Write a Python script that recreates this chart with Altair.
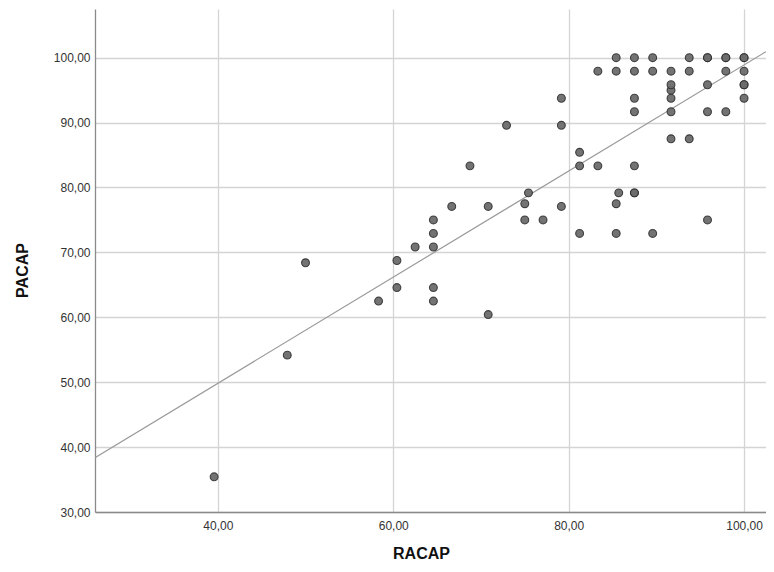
import altair as alt
import pandas as pd

racap = [39.58, 47.92, 50.00, 58.33, 60.42, 60.42, 62.50, 64.58, 64.58, 64.58,
         64.58, 64.58, 66.67, 68.75, 70.83, 70.83, 72.92, 75.00, 75.00, 75.42,
         77.08, 79.17, 79.17, 79.17, 81.25, 81.25, 81.25, 83.33, 83.33, 85.42,
         85.42, 85.71, 85.42, 85.42, 87.50, 87.50, 87.50, 87.50, 87.50, 87.50,
         87.50, 89.58, 89.58, 89.58, 91.67, 91.67, 91.67, 91.67, 91.67, 91.67,
         93.75, 93.75, 93.75, 95.83, 95.83, 95.83, 95.83, 95.83, 97.92, 97.92,
         97.92, 97.92, 100.0, 100.0, 100.0, 100.0, 100.0, 100.0]
pacap = [35.42, 54.17, 68.40, 62.50, 64.58, 68.75, 70.83, 62.50, 64.58, 70.83,
         72.92, 75.00, 77.08, 83.33, 60.42, 77.08, 89.58, 75.00, 77.50, 79.17,
         75.00, 77.08, 89.58, 93.75, 72.92, 83.33, 85.42, 83.33, 97.92, 72.92,
         77.50, 79.17, 97.92, 100.0, 79.17, 79.17, 83.33, 91.67, 93.75, 97.92,
         100.0, 72.92, 97.92, 100.0, 87.50, 91.67, 93.75, 95.00, 95.83, 97.92,
         87.50, 97.92, 100.0, 75.00, 91.67, 95.83, 100.0, 100.0, 91.67, 97.92,
         100.0, 100.0, 93.75, 95.83, 95.83, 97.92, 100.0, 100.0]

x_ticks = [40, 60, 80, 100]
y_ticks = [30, 40, 50, 60, 70, 80, 90, 100]
x_domain = [26.0, 102.5]
y_domain = [30.0, 107.5]

df = pd.DataFrame({"RACAP": racap, "PACAP": pacap})

label_expr = "replace(format(datum.value, '.2f'), '.', ',')"

x_enc = alt.X(
    "RACAP:Q",
    scale=alt.Scale(domain=x_domain, nice=False, zero=False),
    axis=alt.Axis(
        values=x_ticks, labelExpr=label_expr, title="RACAP",
        grid=True, gridColor="#d4d4d4", gridWidth=1.3,
        domainColor="#8a8a8a", domainWidth=1.3, ticks=False,
        labelFont="Liberation Sans", labelFontSize=12, labelColor="#333333",
        labelPadding=8,
        titleFont="Liberation Sans", titleFontSize=16, titleFontWeight="bold",
        titleColor="#111111", titleX=326, titleY=49, titleBaseline="bottom",
        titleAlign="center",
    ),
)
y_enc = alt.Y(
    "PACAP:Q",
    scale=alt.Scale(domain=y_domain, nice=False, zero=False),
    axis=alt.Axis(
        values=y_ticks, labelExpr=label_expr, title="PACAP",
        grid=True, gridColor="#d4d4d4", gridWidth=1.3,
        domainColor="#8a8a8a", domainWidth=1.3, ticks=False,
        labelFont="Liberation Sans", labelFontSize=12, labelColor="#333333",
        labelPadding=5,
        titleFont="Liberation Sans", titleFontSize=16, titleFontWeight="bold",
        titleColor="#111111", titleX=-73, titleY=261, titleBaseline="middle",
        titleAlign="center",
    ),
)

points = alt.Chart(df).mark_point(
    filled=True, shape="circle", size=62, fill="#6b6b6b", fillOpacity=0.95,
    stroke="#2a2a2a", strokeWidth=1.1, strokeOpacity=0.85, clip=True,
).encode(x=x_enc, y=y_enc)

fit = alt.Chart(df).transform_regression(
    "RACAP", "PACAP", extent=x_domain
).mark_line(color="#9a9a9a", strokeWidth=1.2, clip=True).encode(
    x=alt.X("RACAP:Q"), y=alt.Y("PACAP:Q")
)

chart = alt.layer(fit, points).properties(
    width=671, height=503,
    padding={"left": 87, "top": 1, "right": 0, "bottom": 51},
    autosize=alt.AutoSizeParams(type="none"),
).configure_view(stroke=None)

chart.save("out.html", embed_options={"renderer": "svg", "actions": False})
